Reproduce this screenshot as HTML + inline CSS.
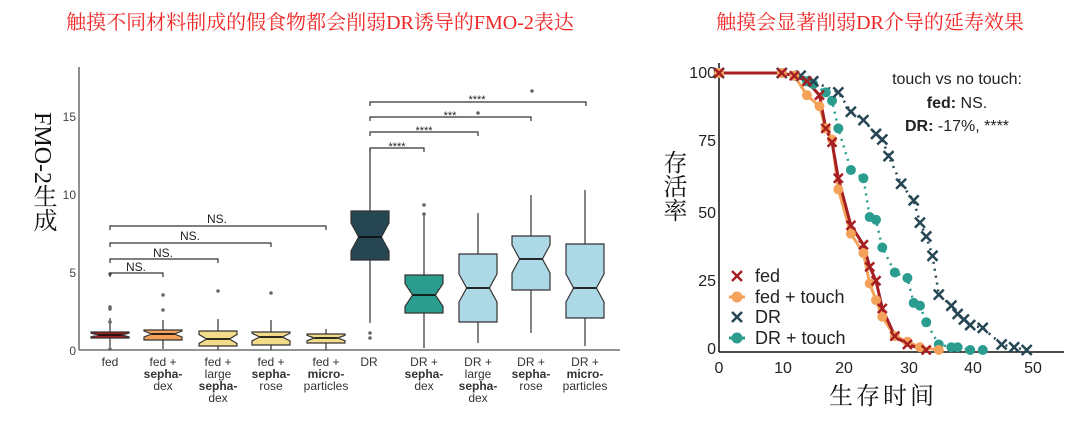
<!DOCTYPE html>
<html><head><meta charset="utf-8"><style>
html,body{margin:0;padding:0;background:#fff;}
svg{display:block;}
</style></head><body>
<svg id="s" width="1080" height="425" xmlns="http://www.w3.org/2000/svg" font-family="Liberation Sans, sans-serif">
<text x="320" y="29" font-size="20" fill="#f02525" text-anchor="middle" font-family="Liberation Serif, Noto Serif CJK SC, serif">触摸不同材料制成的假食物都会削弱DR诱导的FMO-2表达</text>
<text x="870" y="29" font-size="20" fill="#f02525" text-anchor="middle" font-family="Liberation Serif, Noto Serif CJK SC, serif">触摸会显著削弱DR介导的延寿效果</text>
<!-- left y label -->
<text x="42" y="112" font-size="24" fill="#111" style="writing-mode:vertical-rl;" font-family="Liberation Serif, Noto Serif CJK SC, serif">FMO-2生成</text>
<!-- left axes -->
<line x1="79" y1="67" x2="79" y2="350" stroke="#555" stroke-width="1.3"/>
<line x1="79" y1="350" x2="620" y2="350" stroke="#555" stroke-width="1.3"/>
<g font-size="12" fill="#444" text-anchor="end">
<text x="76" y="355">0</text><text x="76" y="277">5</text><text x="76" y="199">10</text><text x="76" y="121">15</text>
</g>
<g id="boxes"></g>
<g id="brk" stroke="#333" stroke-width="1.2" fill="none"></g>
<g font-size="12" fill="#222" text-anchor="middle">
<text x="136" y="271">NS.</text><text x="163" y="257">NS.</text><text x="190" y="240">NS.</text><text x="217" y="223">NS.</text>
</g>
<g font-size="11" fill="#222" text-anchor="middle">
<text x="397" y="150">****</text><text x="424" y="134">****</text><text x="450" y="119">***</text><text x="477" y="103">****</text>
</g>
<g font-size="12" fill="#333" text-anchor="middle">
<text x="110" y="366">fed</text>
<text x="163" y="366">fed +</text><text x="163" y="378" font-weight="bold">sepha-</text><text x="163" y="390">dex</text>
<text x="218" y="366">fed +</text><text x="218" y="378">large</text><text x="218" y="390" font-weight="bold">sepha-</text><text x="218" y="402">dex</text>
<text x="271" y="366">fed +</text><text x="271" y="378" font-weight="bold">sepha-</text><text x="271" y="390">rose</text>
<text x="326" y="366">fed +</text><text x="326" y="378" font-weight="bold">micro-</text><text x="326" y="390">particles</text>
<text x="369" y="366">DR</text>
<text x="424" y="366">DR +</text><text x="424" y="378" font-weight="bold">sepha-</text><text x="424" y="390">dex</text>
<text x="478" y="366">DR +</text><text x="478" y="378">large</text><text x="478" y="390" font-weight="bold">sepha-</text><text x="478" y="402">dex</text>
<text x="531" y="366">DR +</text><text x="531" y="378" font-weight="bold">sepha-</text><text x="531" y="390">rose</text>
<text x="585" y="366">DR +</text><text x="585" y="378" font-weight="bold">micro-</text><text x="585" y="390">particles</text>
</g>
<!-- right plot -->
<line x1="719" y1="63" x2="719" y2="352" stroke="#111" stroke-width="1.5"/>
<line x1="719" y1="352" x2="1064" y2="352" stroke="#111" stroke-width="1.5"/>
<g font-size="16" fill="#222" text-anchor="end">
<text x="716" y="78">100</text><text x="716" y="146">75</text><text x="716" y="218">50</text><text x="716" y="286">25</text><text x="716" y="354">0</text>
</g>
<g font-size="16" fill="#222" text-anchor="middle">
<text x="719" y="373">0</text><text x="783" y="373">10</text><text x="844" y="373">20</text><text x="909" y="373">30</text><text x="973" y="373">40</text><text x="1033" y="373">50</text>
</g>
<text x="883" y="404" font-size="24" fill="#111" text-anchor="middle" font-family="Liberation Serif, Noto Serif CJK SC, serif" letter-spacing="3">生存时间</text>
<text x="672" y="150" font-size="24" fill="#111" style="writing-mode:vertical-rl;" font-family="Liberation Serif, Noto Serif CJK SC, serif">存活率</text>
<g id="curves"></g>
<g font-size="16" fill="#222" text-anchor="middle">
<text x="957" y="84">touch vs no touch:</text>
<text x="957" y="108"><tspan font-weight="bold">fed:</tspan> NS.</text>
<text x="957" y="131"><tspan font-weight="bold">DR:</tspan> -17%, ****</text>
</g>
<g id="legend" font-size="18" fill="#222"></g>
</svg>
<script>
const NS="http://www.w3.org/2000/svg";
function el(p,t,a){const e=document.createElementNS(NS,t);for(const k in a)e.setAttribute(k,a[k]);p.appendChild(e);return e;}
const B=document.getElementById('boxes');
// cx, halfw, top, bot, med, wtop, wbot, color, outliers
const boxes=[
[110,19,332,338,335,318,347,'#a51e22',[274,307,309,322,349]],
[163,19,330,340,334,320,349,'#f4a259',[295,310]],
[218,19,331,346,339,319,350,'#f2dc8a',[291]],
[271,19,332,345,337,320,350,'#f2dc8a',[293]],
[326,19,334,343,338,329,350,'#f2dc8a',[]],
[370,19,211,260,237,148,323,'#264653',[333,338]],
[424,19,275,313,295,215,348,'#2a9d8f',[205,214]],
[478,19,254,322,288,213,343,'#add8e6',[113]],
[531,19,236,290,259,195,333,'#add8e6',[91]],
[585,19,244,318,288,190,346,'#add8e6',[]]];
boxes.forEach(b=>{const [c,w,t,bo,m,wt,wb,col,out]=b;
el(B,'line',{x1:c,y1:wt,x2:c,y2:t,stroke:'#333','stroke-width':1.2});
el(B,'line',{x1:c,y1:bo,x2:c,y2:wb,stroke:'#333','stroke-width':1.2});
const n=Math.min((bo-t)*0.3,14), nw=w*0.6;
const p=[[c-w,t],[c+w,t],[c+w,m-n],[c+nw,m],[c+w,m+n],[c+w,bo],[c-w,bo],[c-w,m+n],[c-nw,m],[c-w,m-n]];
el(B,'polygon',{points:p.map(q=>q.join(',')).join(' '),fill:col,stroke:'#333','stroke-width':1.2});
el(B,'line',{x1:c-nw,y1:m,x2:c+nw,y2:m,stroke:'#111','stroke-width':1.8});
out.forEach(y=>el(B,'circle',{cx:(y<120?(c===478?478:532):c),cy:y,r:1.8,fill:'#666'}));
});
const K=document.getElementById('brk');
[[110,163,273],[110,218,259],[110,271,243],[110,326,226],[370,424,148],[370,478,132],[370,531,117],[370,586,102]].forEach(a=>{
el(K,'path',{d:`M${a[0]} ${a[2]+4}V${a[2]}H${a[1]}V${a[2]+4}`});});
// curves
const X=d=>719+6.28*d, Y=p=>350-2.77*p;
const C=document.getElementById('curves');
const fed=[[0,100],[10,100],[12,99],[14,97],[16,92],[17,80],[18,75],[19,62],[21,45],[23,38],[24,30],[25,25],[26,15],[28,5],[30,2],[33,0]];
const fedt=[[0,100],[10,100],[12,99],[14,92],[16,88],[17,80],[18,76],[19,58],[21,42],[23,35],[24,24],[25,18],[26,12],[28,5],[30,3],[32,1],[35,0]];
const dr=[[0,100],[10,100],[13,99],[15,97],[19,93],[21,86],[23,83],[25,78],[26,76],[27,70],[29,60],[31,54],[32,46],[33,41],[34,34],[35,20],[37,16],[38,13],[39,11],[40,9],[42,8],[45,2],[47,1],[49,0]];
const drt=[[0,100],[10,100],[12,99],[14,97],[15,96],[17,93],[18,90],[19,80],[21,65],[23,62],[24,48],[25,47],[26,37],[28,28],[30,26],[31,17],[32,16],[33,10],[35,2],[37,1],[38,1],[40,0],[42,0]];
const pts=a=>a.map(q=>X(q[0])+','+Y(q[1])).join(' ');
el(C,'polyline',{points:pts(dr),fill:'none',stroke:'#264653','stroke-width':2.5,'stroke-dasharray':'2 5'});
el(C,'polyline',{points:pts(drt),fill:'none',stroke:'#2a9d8f','stroke-width':2.5,'stroke-dasharray':'2 5'});
el(C,'polyline',{points:pts(fedt),fill:'none',stroke:'#f4a259','stroke-width':3});
el(C,'polyline',{points:pts(fed),fill:'none',stroke:'#a51e22','stroke-width':3});
function cross(g,x,y,col,s){el(g,'path',{d:`M${x-s} ${y-s}L${x+s} ${y+s}M${x+s} ${y-s}L${x-s} ${y+s}`,stroke:col,'stroke-width':2.5});}
drt.forEach(q=>el(C,'circle',{cx:X(q[0]),cy:Y(q[1]),r:5,fill:'#2a9d8f'}));
dr.forEach(q=>cross(C,X(q[0]),Y(q[1]),'#264653',5));
fedt.forEach(q=>el(C,'circle',{cx:X(q[0]),cy:Y(q[1]),r:5,fill:'#f4a259'}));
fed.forEach(q=>cross(C,X(q[0]),Y(q[1]),'#a51e22',4.5));
const L=document.getElementById('legend');
cross(L,737,276,'#a51e22',5);
el(L,'line',{x1:729,y1:297,x2:745,y2:297,stroke:'#f4a259','stroke-width':3});el(L,'circle',{cx:737,cy:297,r:5.5,fill:'#f4a259'});
cross(L,737,317,'#264653',5);
el(L,'circle',{cx:737,cy:338,r:5.5,fill:'#2a9d8f'});el(L,'line',{x1:729,y1:338,x2:745,y2:338,stroke:'#2a9d8f','stroke-width':3});
[['fed',282],['fed + touch',303],['DR',323],['DR + touch',344]].forEach(a=>{const t=el(L,'text',{x:755,y:a[1]});t.textContent=a[0];});
</script>
</body></html>
